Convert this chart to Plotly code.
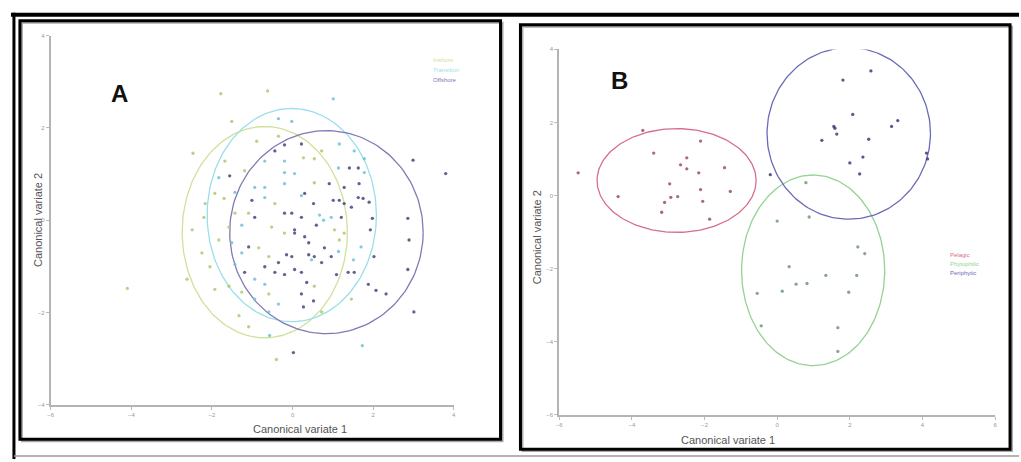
import numpy as np
import plotly.graph_objects as go

W, H = 1021, 462

# ---------------- Panel A data ----------------
a_groups = ["Inshore", "Transition", "Offshore"]
a_green_x = [-1.78, -4.10, -1.09, -2.47, -2.49, -1.93, 0.72, -0.35, -0.89, 0.27, 0.54, -1.19, 0.54, -0.44,
             -1.70, -2.17, -1.43, -1.09, -0.52, -0.20, 1.28, 1.04, -0.59, -0.84, 0.54, 0.72, -0.59, -1.33,
             -1.68, -1.93, -1.58, -1.83, -2.25, -2.05, -1.58, -1.26, 1.16, -2.20, -0.40, -0.62, -1.51, 1.46, -2.62]
a_green_y = [2.74, -1.48, -2.31, 1.45, -0.21, -1.50, 1.50, 1.82, 1.71, 1.35, 1.33, 1.07, 0.81, 0.36,
             0.47, 0.36, 0.15, 0.15, -0.15, -0.28, -0.28, -0.21, -0.79, -0.60, -1.43, -1.99, -1.60, -2.07,
             1.28, 0.58, -0.15, -0.43, -0.71, -1.01, -1.43, -1.56, -0.43, 0.06, -3.02, 2.80, 2.14, -1.71, -1.28]
a_cyan_x = [1.01, 1.78, 1.16, -0.94, -0.69, -0.20, -0.20, 0.05, 0.67, 0.77, -0.69, -1.43, -1.26, -1.43,
            -0.94, -0.69, 1.51, 1.70, -0.35, -0.94, -0.59, 1.14, -0.69, -0.20, -1.83, -1.51, -0.02, -0.35,
            1.53, 0.96, 1.14, 1.78, 1.73, -0.57, 0.22, -1.26, 0.47]
a_cyan_y = [2.63, 1.33, 1.65, 0.71, 0.71, 0.79, 1.03, 1.01, 0.11, 0.00, 0.49, 0.60, -0.71, -0.96,
            -1.28, -1.39, -0.86, -0.58, -1.82, -1.71, -1.99, 1.13, 1.28, 1.28, 0.92, -0.49, 2.14, 2.20,
            1.50, 0.06, -0.68, 1.03, -2.72, -2.50, 0.53, -0.11, -0.86]
a_purple_x = [3.80, 3.01, 0.02, 2.99, 2.86, 2.89, 2.86, 2.32, 2.07, 1.88, 2.02, 1.93, 1.98, 1.90, 1.75,
              1.63, 1.65, 1.28, 1.46, 1.16, 1.01, 1.28, 1.21, 0.91, 0.22, -0.20, -0.44, -1.56, 0.30, 0.52,
              0.59, 0.22, -0.02, -0.20, -1.01, -0.94, 0.05, 0.30, 0.40, 0.79, 0.54, 0.40, -0.02, -0.15,
              -0.35, -0.69, -1.09, -1.19, -0.44, -0.20, 0.05, 0.22, 0.35, 0.72, 0.96, 1.38, 1.53, 1.09,
              0.52, 0.27, 0.22, 1.41, 1.63, 0.05]
a_purple_y = [1.01, -1.99, -2.87, 1.30, 0.04, -0.43, -1.07, -1.60, -1.52, -1.39, -0.79, -0.21, 0.04, 0.39,
              0.47, 0.49, 0.79, 0.71, 0.28, 0.43, 0.43, 0.36, 0.06, 0.79, 1.65, 1.63, 1.50, 0.96, 0.58,
              0.36, -0.11, 0.06, 0.15, 0.15, 0.43, 0.06, -0.28, -0.36, -0.49, -0.60, -0.79, -0.75, -0.79,
              -0.75, -0.92, -1.01, -0.58, -1.13, -1.13, -1.18, -1.07, -1.13, -1.35, -0.92, -0.79, -1.13,
              -1.13, -1.18, -1.75, -1.88, -1.60, 1.13, 1.13, -0.21]
# ellipse parameters (centre x, centre y, semi-axis x, semi-axis y)
a_ell_cx = [-0.69, -0.02, 0.84]
a_ell_cy = [-0.26, 0.11, -0.26]
a_ell_rx = [2.05, 2.10, 2.40]
a_ell_ry = [2.29, 2.31, 2.20]
a_colors_line = ["#cfe29a", "#9adfec", "#8278b4"]
a_colors_pt = ["#b0c96e", "#6cc4d6", "#45467e"]
a_xticks = [-6, -4, -2, 0, 2, 4]
a_yticks = [-4, -2, 0, 2, 4]

# ---------------- Panel B data ----------------
b_groups = ["Pelagic", "Phytophilic", "Periphytic"]
b_red_x = [-5.48, -4.38, -3.70, -3.40, -3.18, -3.10, -2.96, -2.93, -2.74, -2.66, -2.49, -2.49, -2.16,
           -2.11, -2.11, -2.05, -1.86, -1.45, -1.29]
b_red_y = [0.62, -0.03, 1.78, 1.16, -0.46, -0.19, 0.32, -0.05, -0.03, 0.84, 1.03, 0.73, 0.62,
           1.49, 0.16, -0.16, -0.65, 0.76, 0.11]
b_green_x = [0.79, 0.88, 0.00, 2.22, 2.41, 0.33, 1.34, 2.19, 0.82, 0.52, 0.14, -0.55, 1.97, -0.44, 1.67, 1.67]
b_green_y = [0.35, -0.59, -0.70, -1.41, -1.59, -1.95, -2.19, -2.19, -2.41, -2.43, -2.62, -2.68, -2.65,
             -3.57, -3.62, -4.27]
b_blue_x = [0.68, 1.81, 2.58, 2.08, 1.56, 1.59, 1.64, 1.23, 2.52, 3.15, 3.32, 2.36, 2.00, 2.27, 4.14, 4.11, -0.19]
b_blue_y = [4.03, 3.16, 3.41, 2.22, 1.89, 1.84, 1.68, 1.51, 1.54, 1.89, 2.05, 1.05, 0.89, 0.59, 1.00, 1.16, 0.57]
b_ell_cx = [-2.77, 0.99, 1.97]
b_ell_cy = [0.41, -2.05, 1.70]
b_ell_rx = [2.19, 1.97, 2.25]
b_ell_ry = [1.42, 2.61, 2.35]
b_colors_line = ["#d66e88", "#94d294", "#6a6ab8"]
b_colors_pt = ["#9a5064", "#6e9a6e", "#3c3c78"]
b_xticks = [-6, -4, -2, 0, 2, 4, 6]
b_yticks = [-6, -4, -2, 0, 2, 4]


def px(x):
    return x / W


def py(y):
    return 1 - y / H


fig = go.Figure()

t = np.linspace(0, 2 * np.pi, 181)


def add_panel(xs, ys, cx, cy, rx, ry, lcols, pcols, xa, ya):
    for i in range(3):
        fig.add_trace(go.Scatter(
            x=cx[i] + rx[i] * np.cos(t), y=cy[i] + ry[i] * np.sin(t), mode="lines",
            line=dict(color=lcols[i], width=1.3), xaxis=xa, yaxis=ya, showlegend=False,
            hoverinfo="skip"))
    for i in range(3):
        fig.add_trace(go.Scatter(
            x=xs[i], y=ys[i], mode="markers", cliponaxis=False,
            marker=dict(color=pcols[i], size=3.3, opacity=0.85), xaxis=xa, yaxis=ya, showlegend=False))


add_panel([a_green_x, a_cyan_x, a_purple_x], [a_green_y, a_cyan_y, a_purple_y],
          a_ell_cx, a_ell_cy, a_ell_rx, a_ell_ry, a_colors_line, a_colors_pt, "x", "y")
add_panel([b_red_x, b_green_x, b_blue_x], [b_red_y, b_green_y, b_blue_y],
          b_ell_cx, b_ell_cy, b_ell_rx, b_ell_ry, b_colors_line, b_colors_pt, "x2", "y2")

axis_common = dict(showline=True, linecolor="#b4b4b4", linewidth=2, ticks="outside", ticklen=3,
                   tickcolor="#bbbbbb", showgrid=False, zeroline=False,
                   tickfont=dict(size=6, color="#999999", family="Arial"))

fig.update_layout(
    width=W, height=H, margin=dict(l=0, r=0, t=0, b=0),
    paper_bgcolor="white", plot_bgcolor="white", showlegend=False,
    xaxis=dict(domain=[px(48), px(453)], range=[-6, 4], tickvals=a_xticks, anchor="y", **axis_common),
    yaxis=dict(domain=[py(407), py(33)], range=[-4, 4], tickvals=a_yticks, anchor="x", **axis_common),
    xaxis2=dict(domain=[px(559), px(997)], range=[-6, 6], tickvals=b_xticks, anchor="y2", **axis_common),
    yaxis2=dict(domain=[py(417), py(47)], range=[-6, 4], tickvals=b_yticks, anchor="x2", **axis_common),
)

shapes = []
# outer frame lines
shapes.append(dict(type="line", xref="paper", yref="paper", x0=px(8), x1=px(1021), y0=py(12), y1=py(12),
                   line=dict(color="black", width=4)))
shapes.append(dict(type="line", xref="paper", yref="paper", x0=px(11), x1=px(11), y0=py(10), y1=py(462),
                   line=dict(color="black", width=3)))
shapes.append(dict(type="line", xref="paper", yref="paper", x0=px(11), x1=px(1021), y0=py(459), y1=py(459),
                   line=dict(color="#9a9a9a", width=1.5)))
# panel boxes (shadow + frame)
for (x0, y0, x1, y1) in [(17, 18, 500, 442), (520, 22, 1012, 452)]:
    shapes.append(dict(type="rect", xref="paper", yref="paper", x0=px(x0 + 2), x1=px(x1 + 2), y0=py(y1 + 2),
                       y1=py(y0 + 2), line=dict(color="#aaaaaa", width=2), layer="below"))
    shapes.append(dict(type="rect", xref="paper", yref="paper", x0=px(x0), x1=px(x1), y0=py(y1), y1=py(y0),
                       line=dict(color="black", width=3)))
fig.update_layout(shapes=shapes)

ann = []
txt = dict(family="Arial", color="#555555", size=11)
ann.append(dict(x=px(250), y=py(425), xref="paper", yref="paper", text="Canonical variate 1", showarrow=False,
                yanchor="top", borderpad=0, font=txt))
ann.append(dict(x=px(28), y=py(220), xref="paper", yref="paper", text="Canonical variate 2", showarrow=False,
                textangle=-90, borderpad=0, font=txt))
ann.append(dict(x=px(777), y=py(436), xref="paper", yref="paper", text="Canonical variate 1", showarrow=False,
                yanchor="top", borderpad=0, font=txt))
ann.append(dict(x=px(537), y=py(237), xref="paper", yref="paper", text="Canonical variate 2", showarrow=False,
                textangle=-90, borderpad=0, font=txt))
ann.append(dict(x=px(107), y=py(76), xref="paper", yref="paper", text="<b>A</b>", showarrow=False,
                font=dict(family="Arial", size=24, color="#111111")))
ann.append(dict(x=px(620), y=py(63), xref="paper", yref="paper", text="<b>B</b>", showarrow=False,
                font=dict(family="Arial", size=24, color="#111111")))
for i, (g, c) in enumerate(zip(a_groups, a_colors_line)):
    ann.append(dict(x=px(430), y=py(53 + 10 * i), xref="paper", yref="paper", text=g, showarrow=False,
                    xanchor="left", font=dict(family="Arial", size=6, color=c)))
for i, (g, c) in enumerate(zip(b_groups, b_colors_line)):
    ann.append(dict(x=px(950), y=py(255 + 9.5 * i), xref="paper", yref="paper", text=g, showarrow=False,
                    xanchor="left", font=dict(family="Arial", size=6, color=c)))
fig.update_layout(annotations=ann)

fig.write_html("out.html", config={"displayModeBar": False},
               post_script="document.body.style.margin='0';document.body.style.overflow='hidden';")
